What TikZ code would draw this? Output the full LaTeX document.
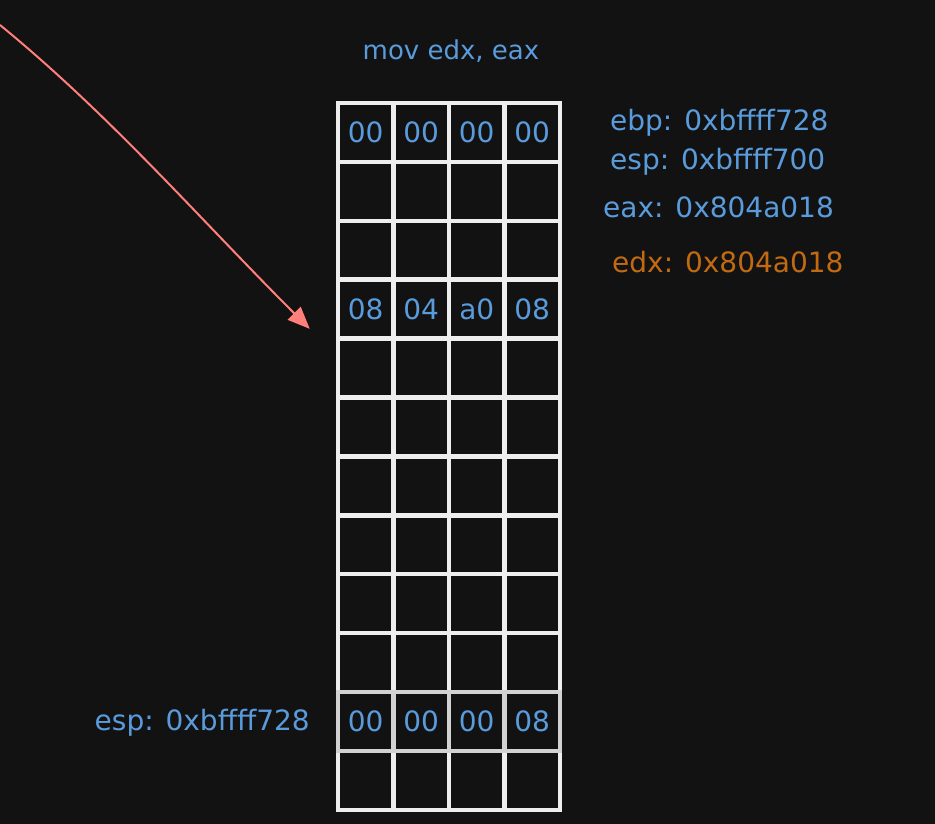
\documentclass[tikz,border=0pt]{standalone}
\usepackage{fontspec}
\setmainfont{DejaVu Sans}
\usetikzlibrary{arrows.meta,positioning}
\definecolor{bgdark}{HTML}{121212}
\definecolor{cellline}{HTML}{EEEEEE}
\definecolor{cellgray}{HTML}{D2D2D2}
\definecolor{textblue}{HTML}{5A9BDC}
\definecolor{textorange}{HTML}{C26A12}
\definecolor{arrowred}{HTML}{FF7F7A}
\tikzstyle{cell}=[draw=cellline,line width=4.5pt,minimum width=55.5pt,minimum height=58.9pt,inner sep=0pt]
\tikzstyle{byte}=[text=textblue,font=\fontsize{28}{32}\selectfont,inner sep=0pt]
\tikzstyle{reg}=[text=textblue,font=\fontsize{28}{32}\selectfont,inner sep=0pt,anchor=base west]
\tikzstyle{changed reg}=[reg,text=textorange]
\tikzstyle{pointer}=[draw=arrowred,line width=2pt,-{Triangle[length=22pt,width=18pt]}]

\begin{document}
\begin{tikzpicture}[x=1pt,y=-1pt]
    % Dark canvas
    \fill[bgdark] (0,0) rectangle (935,824);
    \useasboundingbox (0,0) rectangle (935,824);
    \node[text=textblue,font=\fontsize{26}{30}\selectfont,inner sep=0pt,anchor=base] (instr) at (451,60) {mov edx, eax};

    % First we draw the stack cells
    \foreach \r in {1,...,10,12}
        \foreach \c in {1,...,4}
            \node[cell] (c-\r-\c) at ({338+55.5*(\c-0.5)},{103+58.9*(\r-0.5)}) {};
    \foreach \c in {1,...,4}
        \node[cell,draw=cellgray] (c-11-\c) at ({338+55.5*(\c-0.5)},{103+58.9*10.5}) {};

    % Bytes stored in the cells
    \foreach \r/\c/\val in {1/1/00, 1/2/00, 1/3/00, 1/4/00, 4/1/08, 4/2/04, 4/3/a0, 4/4/08, 11/1/00, 11/2/00, 11/3/00, 11/4/08}
        \node[byte] (v-\r-\c) at (c-\r-\c) {\val};

    % Registers
    \foreach \pos/\name/\txt in {{(610,131)/ebp/ebp: 0xbffff728}, {(610,170)/esp/esp: 0xbffff700}, {(603,218)/eax/eax: 0x804a018}}
        \node[reg] (\name) at \pos {\txt};
    \node[changed reg] (edx) at (612,272) {edx: 0x804a018};
    \node[reg,anchor=base east] (oldesp) at (310,730) {esp: 0xbffff728};

    % Arrow into the stack
    \coordinate (from) at (0,25);
    \coordinate (to) at ([xshift=-26pt,yshift=12pt]c-4-1.south west);
    \path[pointer] (from) .. controls +(110,90) and +(-110,-110) .. (to);
\end{tikzpicture}
\end{document}
